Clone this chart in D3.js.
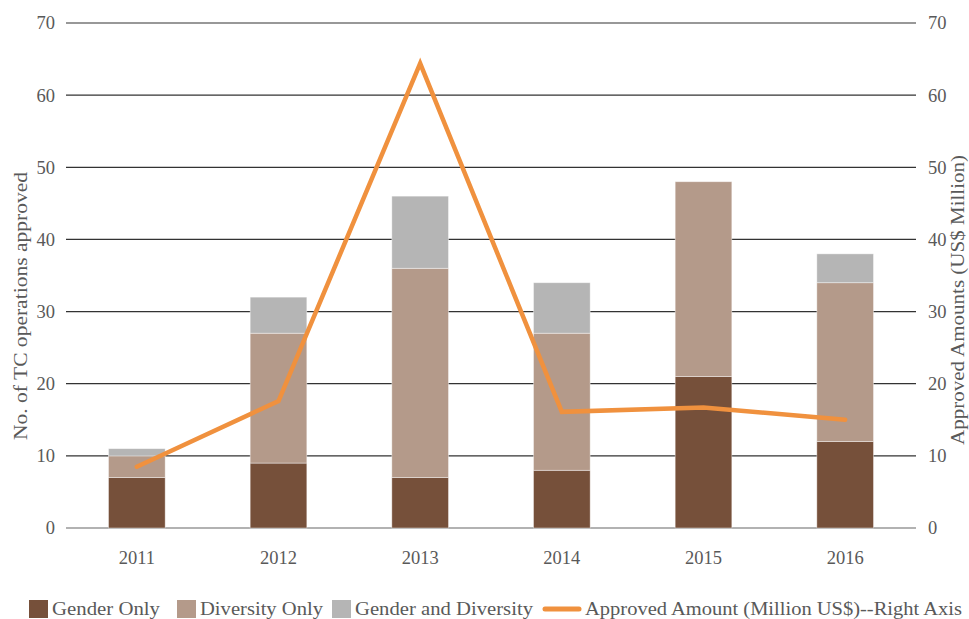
<!DOCTYPE html>
<html><head><meta charset="utf-8">
<script src="https://cdn.jsdelivr.net/npm/d3@7"></script>
<style>body{margin:0;background:#fff}svg text{font-family:"Liberation Serif","DejaVu Serif",serif !important;fill:#595959}</style>
</head><body><svg id="c" width="969" height="619"></svg>
<script>
const years = ["2011","2012","2013","2014","2015","2016"];
const genderOnly = [7, 9, 7, 8, 21, 12];
const diversityOnly = [3, 18, 29, 19, 27, 22];
const genderAndDiversity = [1, 5, 10, 7, 0, 4];
const approvedAmount = [8.5, 17.6, 64.4, 16.1, 16.7, 15.0];
const yTicks = [0,10,20,30,40,50,60,70];
const seriesNames = ["Gender Only","Diversity Only","Gender and Diversity"];
const lineName = "Approved Amount (Million US$)--Right Axis";
const colors = ["#76503A","#B49A8A","#B5B5B5"];
const lineColor = "#F0913E";

const FONT = '"Liberation Serif","DejaVu Serif",serif';
const svg = d3.select("#c");
const L = 66, R = 916, T = 23, B = 528;
const x = d3.scaleBand().domain(years).range([L, R]).padding(0);
const y = d3.scaleLinear().domain([0,70]).range([B, T]);
const y2 = d3.scaleLinear().domain([0,70]).range([B, T]);

// grid
svg.append("g").selectAll("line").data(yTicks).join("line")
  .attr("x1", L).attr("x2", R).attr("y1", d=>y(d)).attr("y2", d=>y(d))
  .attr("stroke", d=> d===0 ? "#666" : "#333").attr("stroke-width", 1.2);

function styleAxis(g){
  g.select(".domain").remove();
  g.attr("font-family", FONT);
  g.selectAll("text").style("font-size","18.5px").style("font-family",FONT).attr("fill","#595959");
}
styleAxis(svg.append("g").attr("transform",`translate(${L},0)`)
  .call(d3.axisLeft(y).tickValues(yTicks).tickSize(0).tickPadding(11)));
styleAxis(svg.append("g").attr("transform",`translate(${R},0)`)
  .call(d3.axisRight(y2).tickValues(yTicks).tickSize(0).tickPadding(12)));
styleAxis(svg.append("g").attr("transform",`translate(0,${B})`)
  .call(d3.axisBottom(x).tickSize(0).tickPadding(23)));

// stacked bars
const data = years.map((yr,i)=>({year:yr, g:genderOnly[i], d:diversityOnly[i], gd:genderAndDiversity[i]}));
const stack = d3.stack().keys(["g","d","gd"])(data);
const bw = x.bandwidth()*0.4;
svg.append("g").selectAll("g").data(stack).join("g").attr("fill",(d,i)=>colors[i])
  .selectAll("rect").data(d=>d.filter(v=>v[1]>v[0])).join("rect")
  .attr("x", d=> x(d.data.year)+x.bandwidth()/2 - bw/2)
  .attr("width", bw)
  .attr("y", d=> y(d[1]))
  .attr("height", d=> y(d[0]) - y(d[1]))
  .attr("stroke","#fff").attr("stroke-opacity",0.5).attr("stroke-width",0.8);

// line
const line = d3.line().x((d,i)=>x(years[i])+x.bandwidth()/2).y(d=>y2(d));
svg.append("path").datum(approvedAmount).attr("d", line)
  .attr("fill","none").attr("stroke", lineColor).attr("stroke-width",4.5)
  .attr("stroke-linejoin","miter").attr("stroke-linecap","round");

// axis titles
svg.append("text").attr("transform","translate(27,306) rotate(-90)")
  .attr("text-anchor","middle").style("font-size","19px")
  .attr("textLength",268).attr("lengthAdjust","spacingAndGlyphs").text("No. of TC operations approved");
svg.append("text").attr("transform","translate(964,300) rotate(-90)")
  .attr("text-anchor","middle").style("font-size","19px")
  .attr("textLength",290).attr("lengthAdjust","spacingAndGlyphs").text("Approved Amounts (US$ Million)");

// legend
const lg = svg.append("g").attr("transform","translate(0,609)");
const items = [
  {type:"rect", color:colors[0], name:seriesNames[0], x:29, w:108},
  {type:"rect", color:colors[1], name:seriesNames[1], x:177, w:123},
  {type:"rect", color:colors[2], name:seriesNames[2], x:332, w:178},
  {type:"line", color:lineColor, name:lineName, x:543, w:377}
];
items.forEach(it=>{
  if(it.type==="rect"){
    lg.append("rect").attr("x",it.x).attr("y",-9).attr("width",19).attr("height",18).attr("fill",it.color);
    lg.append("text").attr("x",it.x+23).attr("y",6).style("font-size","19px")
      .attr("textLength",it.w).attr("lengthAdjust","spacingAndGlyphs").text(it.name);
  } else {
    lg.append("line").attr("x1",it.x+2).attr("x2",it.x+36).attr("y1",0).attr("y2",0)
      .attr("stroke",it.color).attr("stroke-width",5).attr("stroke-linecap","round");
    lg.append("text").attr("x",it.x+42).attr("y",6).style("font-size","19px")
      .attr("textLength",it.w).attr("lengthAdjust","spacingAndGlyphs").text(it.name);
  }
});
</script></body></html>
